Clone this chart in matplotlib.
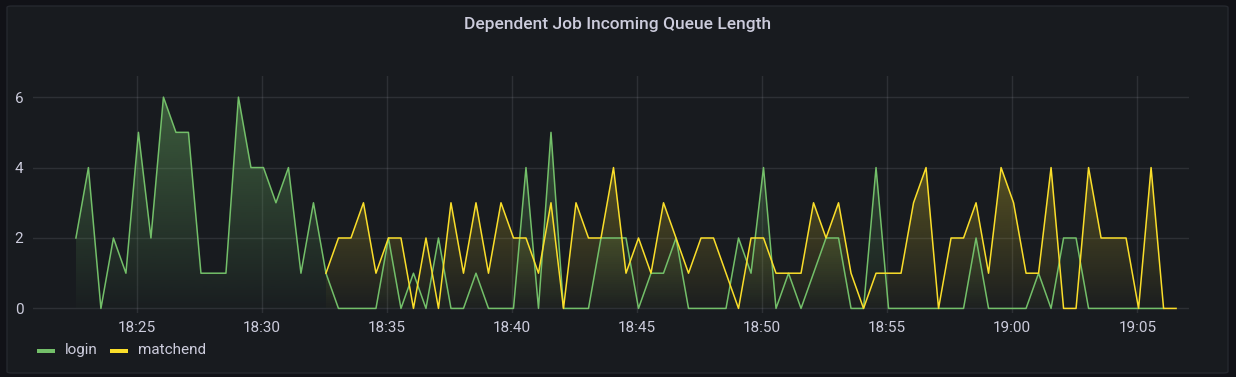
import datetime as dt
import numpy as np
import matplotlib
matplotlib.use('Agg')
import matplotlib.pyplot as plt
import matplotlib.dates as mdates
from matplotlib.patches import Rectangle, FancyBboxPatch, Polygon
from matplotlib.colors import to_rgb

# ---------------------------------------------------------------------------
# Data (30 s samples)
# ---------------------------------------------------------------------------
login_start = dt.datetime(2023, 1, 1, 18, 22, 33)
matchend_start = dt.datetime(2023, 1, 1, 18, 32, 33)
sample_step = dt.timedelta(seconds=30)

login = [2, 4, 0, 2, 1, 5, 2, 6, 5, 5,
         1, 1, 1, 6, 4, 4, 3, 4, 1, 3,
         1, 0, 0, 0, 0, 2, 0, 1, 0, 2,
         0, 0, 1, 0, 0, 0, 4, 0, 5, 0,
         0, 0, 2, 2, 2, 0, 1, 1, 2, 0,
         0, 0, 0, 2, 1, 4, 0, 1, 0, 1,
         2, 2, 0, 0, 4, 0, 0, 0, 0, 0,
         0, 0, 2, 0, 0, 0, 0, 1, 0, 2,
         2, 0, 0, 0, 0, 0, 0, 0]

matchend = [1, 2, 2, 3, 1, 2, 2, 0, 2, 0,
            3, 1, 3, 1, 3, 2, 2, 1, 3, 0,
            3, 2, 2, 4, 1, 2, 1, 3, 2, 1,
            2, 2, 1, 0, 2, 2, 1, 1, 1, 3,
            2, 3, 1, 0, 1, 1, 1, 3, 4, 0,
            2, 2, 3, 1, 4, 3, 1, 1, 4, 0,
            0, 4, 2, 2, 2, 0, 4, 0, 0]

series = [("login", login_start, login, "#73bf69"),
          ("matchend", matchend_start, matchend, "#fade2a")]

y_ticks = [0, 2, 4, 6]
title = "Dependent Job Incoming Queue Length"

# ---------------------------------------------------------------------------
# Style
# ---------------------------------------------------------------------------
BG_OUT = "#111217"
BG_PANEL = "#181b1f"
TEXT = "#ccccdc"
plt.rcParams['font.family'] = ['Roboto', 'DejaVu Sans']

W, H = 1236, 377
fig = plt.figure(figsize=(W / 100, H / 100), dpi=100, facecolor=BG_OUT)

panel = FancyBboxPatch((7 / W, 4 / H), 1221 / W, 367 / H,
                       boxstyle="round,pad=0,rounding_size=0.004",
                       transform=fig.transFigure, facecolor=BG_PANEL,
                       edgecolor="#25282e", linewidth=1, zorder=-5)
fig.patches.append(panel)

fig.text(0.5, 1 - 25 / H, title, ha='center', va='center', color=TEXT,
         fontsize=12.5, fontweight='medium')

ax = fig.add_axes([33 / W, 1 - 313 / H, (1189 - 33) / W, (313 - 76) / H])
ax.set_facecolor('none')

y_lo, y_hi = -0.13, 6.6
x_lo = dt.datetime(2023, 1, 1, 18, 20, 50)
x_hi = dt.datetime(2023, 1, 1, 19, 7, 4)


def gradient_fill(ax, xs, ys, color):
    rgb = to_rgb(color)
    n = 256
    img = np.zeros((n, 1, 4))
    img[:, 0, :3] = rgb
    # alpha grows with height (Grafana "opacity" gradient)
    img[:, 0, 3] = np.linspace(0.44, 0.02, n)
    im = ax.imshow(img, aspect='auto', origin='upper',
                   extent=[xs[0], xs[-1], 0, y_hi], zorder=1,
                   interpolation='bilinear')
    verts = [(xs[0], 0)] + list(zip(xs, ys)) + [(xs[-1], 0)]
    poly = Polygon(verts, closed=True, facecolor='none', edgecolor='none',
                   transform=ax.transData)
    ax.add_patch(poly)
    im.set_clip_path(poly)


for name, start, vals, color in series:
    times = [start + i * sample_step for i in range(len(vals))]
    xs = mdates.date2num(times)
    gradient_fill(ax, xs, vals, color)
    ax.plot(xs, vals, color=color, linewidth=1.1, zorder=3)

ax.xaxis_date()
ax.set_xlim(mdates.date2num(x_lo), mdates.date2num(x_hi))
ax.set_ylim(y_lo, y_hi)
ax.set_yticks(y_ticks)
ax.xaxis.set_major_locator(mdates.MinuteLocator(byminute=range(0, 60, 5)))
ax.xaxis.set_major_formatter(mdates.DateFormatter('%H:%M'))

ax.grid(True, color=TEXT, alpha=0.12, linewidth=1)
ax.set_axisbelow(True)
for s in ax.spines.values():
    s.set_visible(False)
ax.tick_params(length=0, colors=TEXT, labelsize=11)
ax.tick_params(axis='y', pad=7)
ax.tick_params(axis='x', pad=6)

# legend
legend = [("login", "#73bf69", 37, 65), ("matchend", "#fade2a", 110, 138)]
for label, color, x0, xt in legend:
    fig.patches.append(Rectangle((x0 / W, 1 - 353 / H), 18 / W, 4 / H,
                                 transform=fig.transFigure, facecolor=color,
                                 edgecolor='none'))
    fig.text(xt / W, 1 - 350 / H, label, ha='left', va='center',
             color=TEXT, fontsize=11)

fig.savefig('out.png', dpi=100, facecolor=BG_OUT)
